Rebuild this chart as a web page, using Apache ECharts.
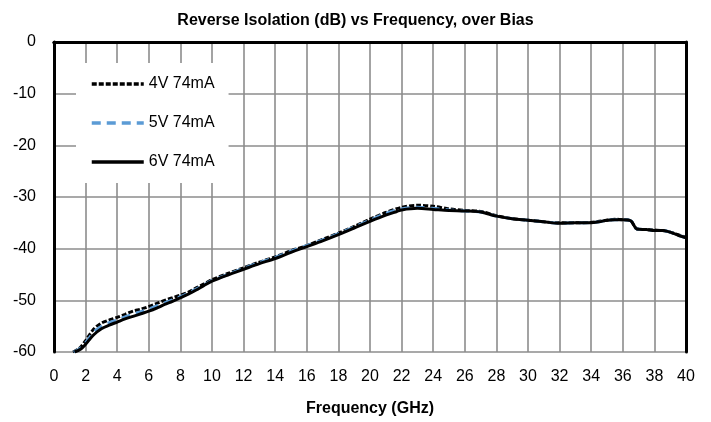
<!DOCTYPE html>
<html><head><meta charset="utf-8">
<script src="https://cdn.jsdelivr.net/npm/echarts@6/dist/echarts.min.js"></script>
<style>html,body{margin:0;padding:0;background:#fff}#c{width:711px;height:422px}</style>
</head><body><div id="c"></div>
<script>
const title = 'Reverse Isolation (dB) vs Frequency, over Bias';
const xName = 'Frequency (GHz)';
const seriesNames = ['4V 74mA', '5V 74mA', '6V 74mA'];

const freq6 = [1.3,1.7,2.0,2.5,3.0,3.5,4.0,4.5,5.0,5.5,6.0,6.5,7.0,7.5,8.0,8.5,9.0,9.5,10,11,12,13,14,15,16,17,18,19,20,21,21.7,22,23,24,25,26,27,28,29,30,31,32,33,34,34.5,35,35.5,36,36.5,36.9,37.5,38,38.5,39,39.5,40];
const v6V = [-60.0,-59.4,-58.5,-56.7,-55.5,-54.8,-54.2,-53.6,-53.1,-52.6,-52.1,-51.5,-50.8,-50.2,-49.5,-48.8,-48.0,-47.1,-46.3,-45.1,-44.0,-42.9,-41.9,-40.7,-39.6,-38.5,-37.3,-36.0,-34.7,-33.5,-32.8,-32.5,-32.2,-32.4,-32.6,-32.7,-32.9,-33.7,-34.2,-34.5,-34.8,-35.1,-35.0,-35.0,-34.8,-34.5,-34.4,-34.4,-34.6,-36.2,-36.3,-36.5,-36.5,-36.8,-37.4,-37.9];

const freq4 = [1.2,1.6,2.0,2.5,3.0,3.5,4.0,4.5,5.0,5.5,6.0,6.5,7.0,7.5,8.0,8.5,9.0,9.5,10,11,12,13,14,15,16,17,18,19,20,21,22,23,24,25,26,27,28,29,30,31,32,33,34,34.5,35,35.5,36,36.5,36.9,37.5,38,38.5,39,39.5,40];
const v4V = [-60.0,-59.3,-57.8,-55.6,-54.4,-53.8,-53.3,-52.7,-52.1,-51.7,-51.2,-50.6,-50.0,-49.5,-49.0,-48.4,-47.6,-46.8,-46.0,-44.8,-43.7,-42.6,-41.6,-40.4,-39.4,-38.2,-37.0,-35.7,-34.3,-33.0,-32.0,-31.6,-31.8,-32.3,-32.6,-32.8,-33.6,-34.2,-34.5,-34.8,-35.0,-35.0,-34.9,-34.7,-34.5,-34.3,-34.4,-34.6,-36.2,-36.3,-36.4,-36.5,-36.8,-37.3,-37.8];

const freq5 = [1.25,1.65,2.0,2.5,3.0,3.5,4.0,4.5,5.0,5.5,6.0,6.5,7.0,7.5,8.0,8.5,9.0,9.5,10,11,12,13,14,15,16,17,18,19,20,21,22,23,24,25,26,27,28,29,30,31,32,33,34,34.5,35,35.5,36,36.5,36.9,37.5,38,38.5,39,39.5,40];
const v5V = [-60.0,-59.3,-58.2,-56.2,-55.0,-54.3,-53.8,-53.2,-52.7,-52.2,-51.7,-51.1,-50.5,-49.9,-49.3,-48.6,-47.8,-47.0,-46.2,-45.0,-43.8,-42.7,-41.7,-40.5,-39.4,-38.3,-37.1,-35.8,-34.5,-33.2,-32.3,-32.0,-32.2,-32.5,-32.7,-32.9,-33.7,-34.2,-34.5,-34.8,-35.1,-35.0,-35.0,-34.8,-34.5,-34.4,-34.4,-34.6,-36.2,-36.3,-36.5,-36.5,-36.8,-37.4,-37.9];

function pairs(xs, ys){ return xs.map((x,i)=>[x, ys[i]]); }

const chart = echarts.init(document.getElementById('c'), null, {renderer:'canvas'});
const FONT = 'Liberation Sans';
const frameAxis = {min:0, max:40, interval:2, axisLabel:{show:false}, axisTick:{show:false}, splitLine:{show:false}, axisLine:{show:true, lineStyle:{color:'#000', width:3}}, z:5};
const frameY = {min:-60, max:0, interval:10, axisLabel:{show:false}, axisTick:{show:false}, splitLine:{show:false}, axisLine:{show:true, onZero:false, lineStyle:{color:'#000', width:3}}, z:5};
chart.setOption({
  animation:false,
  backgroundColor:'#fff',
  textStyle:{fontFamily:FONT},
  title:{text:title, left:'center', top:8, textStyle:{fontFamily:FONT, fontWeight:'bold', fontSize:16, color:'#000'}},
  grid:{left:54, right:25, top:42, bottom:64},
  legend:{
    data:seriesNames, orient:'vertical', left:76, top:63, width:152,
    backgroundColor:'#fff', padding:[13,14,13,14], itemWidth:52, itemHeight:12, itemGap:23,
    itemStyle:{opacity:0, borderWidth:0},
    lineStyle:{width:3.5},
    textStyle:{fontFamily:FONT, fontSize:16, color:'#000'}, z:10
  },
  xAxis:[
    {type:'value', min:0, max:40, interval:2, name:xName, nameLocation:'middle', nameGap:49,
     nameTextStyle:{fontFamily:FONT, fontWeight:'bold', fontSize:16, color:'#000'},
     axisLabel:{fontFamily:FONT, fontSize:16, color:'#000', margin:17}, axisTick:{show:false},
     axisLine:{show:false}, splitLine:{show:true, lineStyle:{color:'#8c8c8c', width:1.6}}},
    Object.assign({type:'value', position:'bottom'}, frameAxis),
    Object.assign({type:'value', position:'top'}, frameAxis)
  ],
  yAxis:[
    {type:'value', min:-60, max:0, interval:10,
     axisLabel:{fontFamily:FONT, fontSize:16, color:'#000', margin:18}, axisTick:{show:false},
     axisLine:{show:false}, splitLine:{show:true, lineStyle:{color:'#8c8c8c', width:1.6}}},
    Object.assign({type:'value', position:'left'}, frameY),
    Object.assign({type:'value', position:'right'}, frameY)
  ],
  series:[
    {name:seriesNames[0], type:'line', data:pairs(freq4, v4V), symbol:'none', smooth:0.3,
     lineStyle:{color:'#000', width:3, type:[5,2]}, itemStyle:{color:'#000'}, z:2},
    {name:seriesNames[1], type:'line', data:pairs(freq5, v5V), symbol:'none', smooth:0.3,
     lineStyle:{color:'#5b9bd5', width:3, type:[9,6]}, itemStyle:{color:'#5b9bd5'}, z:3},
    {name:seriesNames[2], type:'line', data:pairs(freq6, v6V), symbol:'none', smooth:0.3,
     lineStyle:{color:'#000', width:3}, itemStyle:{color:'#000'}, z:4}
  ]
});
</script></body></html>
